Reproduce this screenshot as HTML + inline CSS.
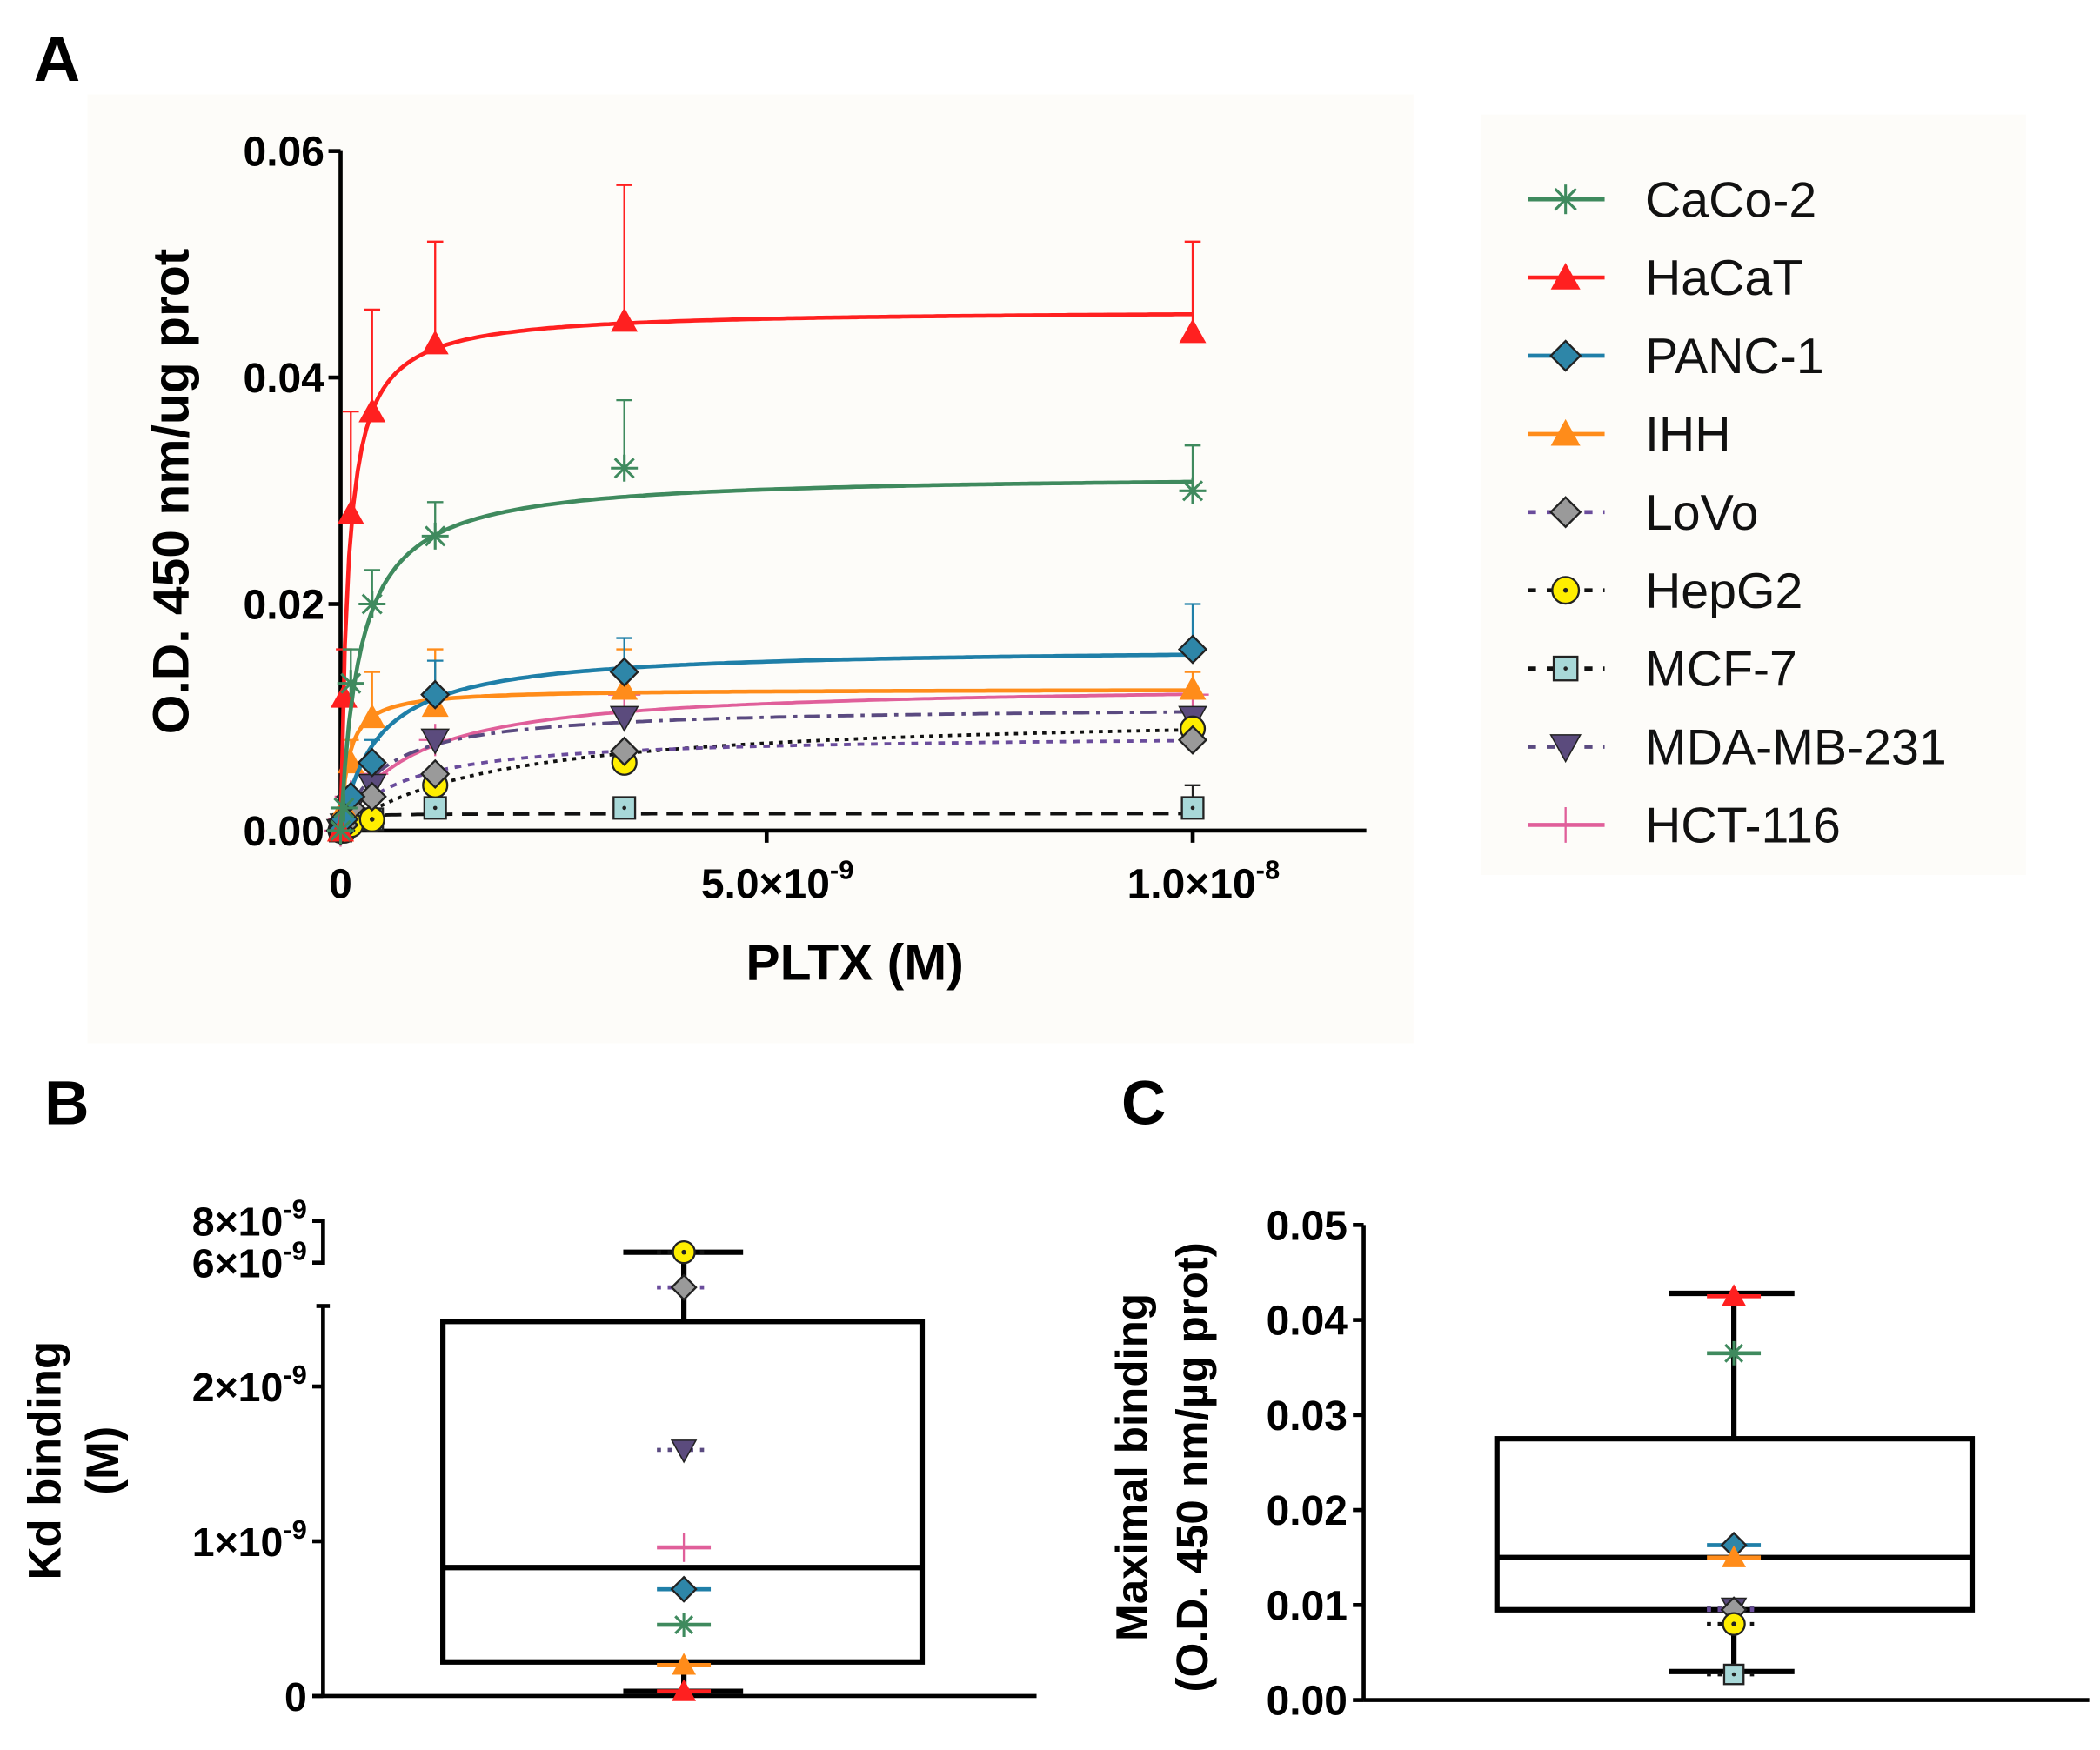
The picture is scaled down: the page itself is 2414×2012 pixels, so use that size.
<!DOCTYPE html>
<html><head><meta charset="utf-8">
<style>
html,body{margin:0;padding:0;background:#fff;}
svg{display:block;font-family:"Liberation Sans",Arial,sans-serif;}
</style></head>
<body>
<svg id="fig" xmlns="http://www.w3.org/2000/svg" width="2414" height="2012" viewBox="0 0 1560 1300">
<rect x="0" y="0" width="1560" height="1300" fill="#fff"/>
<rect x="65" y="70" width="985" height="705" fill="#fdfcf9"/>
<rect x="1100" y="85" width="405" height="565" fill="#fdfcf9"/>
<text x="25" y="60" font-size="48" font-weight="bold">A</text>
<text x="33" y="835" font-size="46" font-weight="bold">B</text>
<text x="833" y="835" font-size="46" font-weight="bold">C</text>
<g id="gA"></g>
<g id="gL"></g>
<g id="gB"></g>
<g id="gC"></g>
</svg>
<script>
// ---------- Panel A data ----------
const concentrations = [0, 0.04e-9, 0.12e-9, 0.37e-9, 1.11e-9, 3.33e-9, 10e-9];
const seriesNames = ["CaCo-2","HaCaT","PANC-1","IHH","LoVo","HepG2","MCF-7","MDA-MB-231","HCT-116"];
const caco2Values = [0, 0.002, 0.013, 0.020, 0.026, 0.032, 0.030];
const caco2ErrTop = [null, null, 0.016, 0.023, 0.029, 0.038, 0.034];
const hacatValues = [0, 0.0118, 0.028, 0.037, 0.043, 0.045, 0.044];
const hacatErrTop = [null, 0.016, 0.037, 0.046, 0.052, 0.057, 0.052];
const panc1Values = [0, 0.001, 0.003, 0.006, 0.012, 0.014, 0.016];
const panc1ErrTop = [null, null, null, 0.008, 0.015, 0.017, 0.020];
const ihhValues = [0, 0.002, 0.006, 0.010, 0.011, 0.0125, 0.0125];
const ihhErrTop = [null, null, 0.008, 0.014, 0.016, 0.016, 0.014];
const lovoValues = [0, 0.0005, 0.002, 0.003, 0.005, 0.007, 0.008];
const hepg2Values = [0, 0, 0.0005, 0.001, 0.004, 0.006, 0.009];
const mcf7Values = [0, 0.0005, 0.001, 0.001, 0.002, 0.002, 0.002];
const mcf7ErrTop = [null, null, null, null, null, null, 0.004];
const mdaValues = [0, 0.0005, 0.002, 0.004, 0.008, 0.010, 0.010];
const hctValues = [0, 0.001, 0.003, 0.005, 0.008, 0.012, 0.012];
// fitted curve parameters (Bmax, Kd)
const fitBmax = [0.0315, 0.046, 0.0162, 0.0125, 0.0085, 0.0105, 0.0015, 0.011, 0.013];
const fitKd = [0.23e-9, 0.09e-9, 0.43e-9, 0.09e-9, 0.7e-9, 1.8e-9, 0.05e-9, 0.5e-9, 0.8e-9];
const xTickValuesA = [0, 5e-9, 1e-8];
const xTickLabelsA = [["0",""],["5.0\u00d710","-9"],["1.0\u00d710","-8"]];
const yTickValuesA = [0, 0.02, 0.04, 0.06];
const yTickLabelsA = ["0.00","0.02","0.04","0.06"];

// ---------- Panel B data ----------
const kdNames = ["HepG2","LoVo","MDA-MB-231","HCT-116","PANC-1","CaCo-2","IHH","HaCaT"];
const kdValues = [6.5e-9, 4.0e-9, 1.59e-9, 0.96e-9, 0.69e-9, 0.46e-9, 0.2e-9, 0.03e-9];
const kdBox = [0.03e-9, 0.22e-9, 0.83e-9, 2.42e-9, 6.5e-9]; // min,q1,median,q3,max
const yTickValuesB = [0, 1e-9, 2e-9, 6e-9, 8e-9];
const yTickLabelsB = [["0",""],["1\u00d710","-9"],["2\u00d710","-9"],["6\u00d710","-9"],["8\u00d710","-9"]];

// ---------- Panel C data ----------
const bmaxNames = ["HaCaT","CaCo-2","PANC-1","IHH","MDA-MB-231","LoVo","HepG2","MCF-7"];
const bmaxValues = [0.0425, 0.0365, 0.0163, 0.015, 0.0097, 0.0095, 0.008, 0.0027];
const bmaxBox = [0.003, 0.0095, 0.015, 0.0275, 0.0428];
const yTickValuesC = [0, 0.01, 0.02, 0.03, 0.04, 0.05];
const yTickLabelsC = ["0.00","0.01","0.02","0.03","0.04","0.05"];

const NS = "http://www.w3.org/2000/svg";
function mk(parent, tag, attrs){ const e=document.createElementNS(NS,tag); for(const k in attrs) e.setAttribute(k,attrs[k]); parent.appendChild(e); return e; }

const styles = [
 {line:"#3f8a5e", dash:"", marker:"star", fill:"#3f8a5e"},
 {line:"#ff2020", dash:"", marker:"tri", fill:"#ff2020"},
 {line:"#1f7fa8", dash:"", marker:"diamond", fill:"#2e86a8"},
 {line:"#ff8c1a", dash:"", marker:"tri", fill:"#ff8c1a"},
 {line:"#6a4c9c", dash:"5,5", marker:"diamond", fill:"#9a9a9a"},
 {line:"#111", dash:"3,4", marker:"circ", fill:"#ffee00"},
 {line:"#111", dash:"12,7", marker:"square", fill:"#a8d8d8"},
 {line:"#5a4a80", dash:"12,5,3,5", marker:"itri", fill:"#5b4b7d"},
 {line:"#e05f9a", dash:"", marker:"plus", fill:"#e05f9a"}
];
const allValues = [caco2Values,hacatValues,panc1Values,ihhValues,lovoValues,hepg2Values,mcf7Values,mdaValues,hctValues];
const allErr = [caco2ErrTop,hacatErrTop,panc1ErrTop,ihhErrTop,null,null,mcf7ErrTop,null,null];

function drawMarker(g, type, cx, cy, r, fill, color){
  let m;
  if(type==="star"){
    m=mk(g,"g",{stroke:color,"stroke-width":2});
    for(let a=0;a<4;a++){const t=a*Math.PI/4; mk(m,"line",{x1:cx-r*Math.cos(t),y1:cy-r*Math.sin(t),x2:cx+r*Math.cos(t),y2:cy+r*Math.sin(t)});}
  } else if(type==="tri"){
    m=mk(g,"polygon",{points:`${cx},${cy-r} ${cx-r},${cy+r*0.8} ${cx+r},${cy+r*0.8}`,fill:fill});
  } else if(type==="itri"){
    m=mk(g,"polygon",{points:`${cx},${cy+r} ${cx-r},${cy-r*0.8} ${cx+r},${cy-r*0.8}`,fill:fill,stroke:"#222","stroke-width":1});
  } else if(type==="diamond"){
    m=mk(g,"polygon",{points:`${cx},${cy-r} ${cx+r},${cy} ${cx},${cy+r} ${cx-r},${cy}`,fill:fill,stroke:"#222","stroke-width":1.5});
  } else if(type==="circ"){
    m=mk(g,"g",{});
    mk(m,"circle",{cx:cx,cy:cy,r:r*0.9,fill:fill,stroke:"#222","stroke-width":1.5});
    mk(m,"circle",{cx:cx,cy:cy,r:1.8,fill:"#222"});
  } else if(type==="square"){
    m=mk(g,"g",{});
    mk(m,"rect",{x:cx-r*0.8,y:cy-r*0.8,width:r*1.6,height:r*1.6,fill:fill,stroke:"#222","stroke-width":1.5});
    mk(m,"circle",{cx:cx,cy:cy,r:1.5,fill:"#222"});
  } else {
    m=mk(g,"g",{stroke:color,"stroke-width":1.5});
    mk(m,"line",{x1:cx-r*1.2,y1:cy,x2:cx+r*1.2,y2:cy});
    mk(m,"line",{x1:cx,y1:cy-r*1.2,x2:cx,y2:cy+r*1.2});
  }
  return m;
}

// ---------- Panel A ----------
(function(){
  const g=document.getElementById("gA");
  const x0=253, xPer=63.3e9, y0=617, yPer=168.3/0.02;
  const X=v=>x0+v*xPer, Y=v=>y0-v*yPer;
  let e=mk(g,"line",{x1:x0,y1:Y(0.06),x2:x0,y2:y0+2,stroke:"#000","stroke-width":3});
   
  e=mk(g,"line",{x1:x0-2,y1:y0,x2:1015,y2:y0,stroke:"#000","stroke-width":3});
   
  yTickValuesA.forEach((v,i)=>{
    mk(g,"line",{x1:x0-9,y1:Y(v),x2:x0,y2:Y(v),stroke:"#000","stroke-width":3});
    const t=mk(g,"text",{x:x0-12,y:Y(v)+11,"font-size":31,"font-weight":"bold","text-anchor":"end"});
    t.textContent=yTickLabelsA[i];
     
  });
  xTickValuesA.forEach((v,i)=>{
    mk(g,"line",{x1:X(v),y1:y0,x2:X(v),y2:y0+9,stroke:"#000","stroke-width":3});
    const t=mk(g,"text",{x:X(v)+(i?8:0),y:y0+50,"font-size":31,"font-weight":"bold","text-anchor":"middle"});
     
    const a=mk(t,"tspan",{}); a.textContent=xTickLabelsA[i][0];
    if(xTickLabelsA[i][1]){const b=mk(t,"tspan",{"font-size":20,dy:-14}); b.textContent=xTickLabelsA[i][1];}
  });
  let t=mk(g,"text",{x:635,y:728,"font-size":38,"font-weight":"bold","text-anchor":"middle"});
  t.textContent="PLTX (M)";  
  t=mk(g,"text",{x:0,y:0,"font-size":38,"font-weight":"bold","text-anchor":"middle",transform:"translate(140,365) rotate(-90)"});
  t.textContent="O.D. 450 nm/ug prot";  
  for(let s=allValues.length-1;s>=0;s--){
    const st=styles[s];
    const sg=mk(g,"g",{});
    
    
    let d="";
    for(let k=0;k<=200;k++){const c=1e-8*k/200; const y=fitBmax[s]*c/(fitKd[s]+c); d+=(k?"L":"M")+X(c).toFixed(1)+","+Y(y).toFixed(1);}
    const ln=mk(sg,"path",{d:d,fill:"none",stroke:st.line,"stroke-width":s<4?3:2.5,"stroke-dasharray":st.dash});
     
    const err=allErr[s];
    allValues[s].forEach((v,i)=>{
      const cx=X(concentrations[i]), cy=Y(v);
      if(err && err[i]!=null){
        const eb=mk(sg,"g",{stroke:st.line==="#111"?"#222":st.line,"stroke-width":1.5});
         
        mk(eb,"line",{x1:cx,y1:cy,x2:cx,y2:Y(err[i])});
        mk(eb,"line",{x1:cx-6,y1:Y(err[i]),x2:cx+6,y2:Y(err[i])});
      }
      const m=drawMarker(sg,st.marker,cx,cy,10,st.fill,st.line);
       
    });
  }
})();

// ---------- Legend ----------
(function(){
  const g=document.getElementById("gL");
  seriesNames.forEach((n,i)=>{
    const y=148+i*58.1, st=styles[i];
    const eg=mk(g,"g",{});
     
    mk(eg,"line",{x1:1135,y1:y,x2:1192,y2:y,stroke:st.line,"stroke-width":3,"stroke-dasharray":st.dash?"6,8":""});
    drawMarker(eg,st.marker,1163,y,11,st.fill,st.line);
    const t=mk(eg,"text",{x:1222,y:y+13,"font-size":37,fill:"#111"}); t.textContent=n;
  });
})();

// ---------- Panel B ----------
(function(){
  const g=document.getElementById("gB");
  const ax=240, y0=1260, per=115e9;
  const Y=v=>{ if(v<=2.52e-9) return y0-v*per; if(v>=6e-9) return 938-(v-6e-9)*15.5e9; return 970-(v-2.52e-9)/(3.48e-9)*32; };
  let e=mk(g,"line",{x1:ax,y1:Y(2.52e-9),x2:ax,y2:y0,stroke:"#000","stroke-width":3});
   
  e=mk(g,"path",{d:`M${ax-8},${Y(6e-9)} L${ax},${Y(6e-9)} L${ax},${Y(8e-9)} L${ax-8},${Y(8e-9)}`,fill:"none",stroke:"#000","stroke-width":3});
   
  e=mk(g,"line",{x1:ax-8,y1:y0,x2:770,y2:y0,stroke:"#000","stroke-width":3});
   
  mk(g,"line",{x1:ax-5,y1:Y(2.52e-9),x2:ax+5,y2:Y(2.52e-9),stroke:"#000","stroke-width":3});
  yTickValuesB.forEach((v,i)=>{
    if(v<6e-9) mk(g,"line",{x1:ax-8,y1:Y(v),x2:ax,y2:Y(v),stroke:"#000","stroke-width":3});
    const t=mk(g,"text",{x:ax-12,y:Y(v)+11,"font-size":30,"font-weight":"bold","text-anchor":"end"});
     
    const a=mk(t,"tspan",{}); a.textContent=yTickLabelsB[i][0];
    if(yTickLabelsB[i][1]){const b=mk(t,"tspan",{"font-size":20,dy:-13}); b.textContent=yTickLabelsB[i][1];}
  });
  let t=mk(g,"text",{x:0,y:0,"font-size":34,"font-weight":"bold","text-anchor":"middle",transform:"translate(45,1085) rotate(-90)"});
  t.textContent="Kd binding";  
  t=mk(g,"text",{x:0,y:0,"font-size":34,"font-weight":"bold","text-anchor":"middle",transform:"translate(88,1085) rotate(-90)"});
  t.textContent="(M)";  
  const cx=508;
  const bx=mk(g,"g",{stroke:"#000","stroke-width":4,fill:"none"});
   
  mk(bx,"line",{x1:cx,y1:Y(kdBox[3]),x2:cx,y2:Y(kdBox[4])});
  mk(bx,"line",{x1:cx,y1:Y(kdBox[1]),x2:cx,y2:Y(kdBox[0])});
  mk(bx,"rect",{x:329,y:Y(kdBox[3]),width:356,height:Y(kdBox[1])-Y(kdBox[3])});
  mk(bx,"line",{x1:329,y1:Y(kdBox[2]),x2:685,y2:Y(kdBox[2])});
  mk(bx,"line",{x1:463,y1:Y(kdBox[4]),x2:552,y2:Y(kdBox[4])});
  mk(bx,"line",{x1:463,y1:Y(kdBox[0]),x2:552,y2:Y(kdBox[0])});
  kdNames.forEach((n,i)=>{
    const st=styles[seriesNames.indexOf(n)], y=Y(kdValues[i]);
    mk(g,"line",{x1:cx-20,y1:y,x2:cx+20,y2:y,stroke:st.line,"stroke-width":3,"stroke-dasharray":st.dash?"3,5":""});
    const m=drawMarker(g,st.marker,cx,y,9,st.fill,st.line);
     
  });
})();

// ---------- Panel C ----------
(function(){
  const g=document.getElementById("gC");
  const ax=1013, y0=1263, per=70.6/0.01;
  const Y=v=>y0-v*per;
  let e=mk(g,"line",{x1:ax,y1:Y(0.05),x2:ax,y2:y0,stroke:"#000","stroke-width":3});
   
  e=mk(g,"line",{x1:ax,y1:y0,x2:1552,y2:y0,stroke:"#000","stroke-width":3});
   
  yTickValuesC.forEach((v,i)=>{
    mk(g,"line",{x1:ax-8,y1:Y(v),x2:ax,y2:Y(v),stroke:"#000","stroke-width":3});
    const t=mk(g,"text",{x:ax-12,y:Y(v)+11,"font-size":31,"font-weight":"bold","text-anchor":"end"});
    t.textContent=yTickLabelsC[i];  
  });
  let t=mk(g,"text",{x:0,y:0,"font-size":33,"font-weight":"bold","text-anchor":"middle",transform:"translate(852,1090) rotate(-90)"});
  t.textContent="Maximal binding";  
  t=mk(g,"text",{x:0,y:0,"font-size":33,"font-weight":"bold","text-anchor":"middle",transform:"translate(897,1090) rotate(-90)"});
  t.textContent="(O.D. 450 nm/\u00b5g prot)";  
  const cx=1288;
  const bx=mk(g,"g",{stroke:"#000","stroke-width":4,fill:"none"});
   
  mk(bx,"line",{x1:cx,y1:Y(bmaxBox[3]),x2:cx,y2:Y(bmaxBox[4])});
  mk(bx,"line",{x1:cx,y1:Y(bmaxBox[1]),x2:cx,y2:Y(bmaxBox[0])});
  mk(bx,"rect",{x:1112,y:Y(bmaxBox[3]),width:353,height:Y(bmaxBox[1])-Y(bmaxBox[3])});
  mk(bx,"line",{x1:1112,y1:Y(bmaxBox[2]),x2:1465,y2:Y(bmaxBox[2])});
  mk(bx,"line",{x1:1240,y1:Y(bmaxBox[4]),x2:1333,y2:Y(bmaxBox[4])});
  mk(bx,"line",{x1:1240,y1:Y(bmaxBox[0]),x2:1333,y2:Y(bmaxBox[0])});
  bmaxNames.forEach((n,i)=>{
    const st=styles[seriesNames.indexOf(n)], y=Y(bmaxValues[i]);
    mk(g,"line",{x1:cx-20,y1:y,x2:cx+20,y2:y,stroke:st.line,"stroke-width":3,"stroke-dasharray":st.dash?"3,5":""});
    const m=drawMarker(g,st.marker,cx,y,9,st.fill,st.line);
     
  });
})();
</script>
</body></html>
